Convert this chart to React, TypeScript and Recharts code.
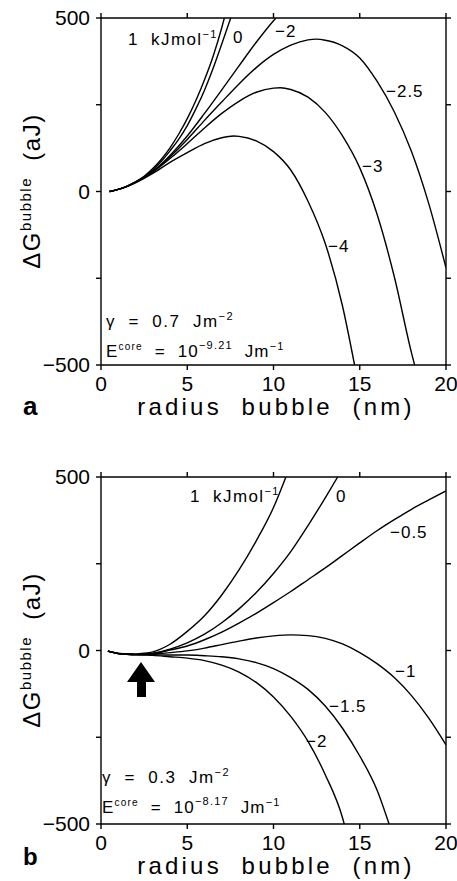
import { Line, LineChart, XAxis, YAxis } from "recharts";

type Pt = [number, number];

const FONT = "'Liberation Sans', Arial, Helvetica, sans-serif";

const radiusTicks = [0, 5, 10, 15, 20];
const energyTicks = [-500, -250, 0, 250, 500];

// panel a: gamma = 0.7 J/m2 (radius nm, dG aJ)
const aPlus1: Pt[] = [[0.5, 0], [1, 6], [1.5, 15], [2, 28], [2.5, 44], [3, 66], [3.5, 93], [4, 126], [4.5, 165], [5, 210], [5.5, 262], [6, 322], [6.5, 390], [7, 472], [7.15, 500]];
const aZero: Pt[] = [[0.5, 0], [1, 6], [1.5, 15], [2, 27], [2.5, 42], [3, 62], [3.5, 87], [4, 117], [4.5, 150], [5, 190], [5.5, 238], [6, 292], [6.5, 355], [7, 425], [7.52, 500]];
const aMinus2: Pt[] = [[0.5, 0], [1, 6], [1.5, 15], [2, 27], [2.5, 41], [3, 58], [4, 104], [5, 160], [6, 225], [7, 293], [8, 362], [9, 430], [10, 492], [10.14, 500]];
const aMinus25: Pt[] = [[0.5, 0], [1, 6], [1.5, 15], [2, 27], [2.5, 41], [3, 57], [4, 100], [5, 150], [6, 205], [7, 258], [8, 310], [9, 357], [10, 395], [11, 422], [12, 437], [12.5, 439], [13, 436], [14, 420], [15, 385], [16, 318], [17, 230], [18, 115], [19, -35], [20, -220]];
const aMinus3: Pt[] = [[0.5, 0], [1, 6], [1.5, 15], [2, 26], [2.5, 40], [3, 56], [4, 95], [5, 138], [6, 183], [7, 225], [8, 260], [9, 286], [10, 298], [10.4, 299], [11, 294], [12, 272], [13, 228], [14, 160], [15, 68], [16, -65], [17, -245], [18, -465], [18.18, -500]];
const aMinus4: Pt[] = [[0.5, 0], [1, 6], [1.5, 14], [2, 25], [2.5, 38], [3, 52], [4, 84], [5, 112], [6, 138], [7, 155], [7.7, 160], [8, 159], [9, 146], [10, 115], [11, 62], [12, -28], [13, -150], [14, -330], [14.7, -500]];

// panel b: gamma = 0.3 J/m2
const bPlus1: Pt[] = [[0.4, -2], [1, -8], [1.5, -10], [2, -10], [2.5, -8], [3, -4], [4, 18], [5, 55], [6, 100], [7, 160], [8, 232], [9, 316], [10, 412], [10.72, 500]];
const bZero: Pt[] = [[0.4, -2], [1, -9], [1.5, -11], [2, -12], [2.5, -11], [3, -8], [4, 4], [5, 22], [6, 47], [7, 80], [8, 120], [9, 167], [10, 222], [11, 285], [12, 360], [13, 440], [13.72, 500]];
const bMinus05: Pt[] = [[0.4, -2], [1, -9], [1.5, -11], [2, -12], [2.5, -11], [3, -9], [4, 1], [5, 13], [6, 31], [7, 53], [8, 79], [9, 107], [10, 138], [11, 170], [12, 204], [13, 238], [14, 274], [15, 310], [16, 345], [17, 377], [18, 407], [19, 434], [20, 460]];
const bMinus1: Pt[] = [[0.4, -2], [1, -9], [1.5, -11], [2, -12], [2.5, -12], [3, -10], [4, -6], [5, -1], [6, 7], [7, 17], [8, 27], [9, 36], [10, 42], [11, 45], [12, 43], [13, 35], [14, 19], [15, -6], [16, -38], [17, -78], [18, -130], [19, -195], [20, -272]];
const bMinus15: Pt[] = [[0.4, -2], [1, -9], [1.5, -11], [2, -12], [2.5, -12], [3, -12], [4, -13], [5, -13], [6, -15], [7, -18], [8, -24], [9, -35], [10, -52], [11, -78], [12, -112], [13, -160], [14, -224], [15, -304], [16, -402], [16.7, -500]];
const bMinus2: Pt[] = [[0.4, -2], [1, -9], [1.5, -11], [2, -12], [2.5, -13], [3, -14], [4, -18], [5, -22], [6, -29], [7, -42], [8, -62], [9, -92], [10, -134], [11, -190], [12, -262], [13, -358], [14, -482], [14.1, -500]];

const panelA = [aPlus1, aZero, aMinus2, aMinus25, aMinus3, aMinus4];
const panelB = [bPlus1, bZero, bMinus05, bMinus1, bMinus15, bMinus2];

const toRows = (pts: Pt[]) => pts.map(([r, g]) => ({ r, g }));

const axisStroke = { stroke: "#000", strokeWidth: 1.4 };
const tickFont = { fill: "#000", fontSize: 21, fontFamily: FONT };

function formatEnergy(v: number) {
  if (v === 250 || v === -250) return "";
  return v < 0 ? `\u2212${Math.abs(v)}` : String(v);
}

function Panel({ curves }: { curves: Pt[][] }) {
  return (
    <LineChart width={457} height={400} margin={{ top: 8, right: 1, bottom: 5, left: 41 }}>
      <XAxis
        xAxisId="bottom"
        type="number"
        dataKey="r"
        domain={[0, 20]}
        ticks={radiusTicks}
        orientation="bottom"
        height={30}
        tickSize={5}
        tickMargin={6}
        tick={tickFont}
        axisLine={axisStroke}
        tickLine={axisStroke}
        allowDataOverflow
      />
      <XAxis
        xAxisId="top"
        type="number"
        dataKey="r"
        domain={[0, 20]}
        ticks={radiusTicks}
        orientation="top"
        height={10}
        tickSize={5}
        tickFormatter={() => ""}
        axisLine={axisStroke}
        tickLine={axisStroke}
        allowDataOverflow
      />
      <YAxis
        yAxisId="left"
        type="number"
        domain={[-500, 500]}
        ticks={energyTicks}
        width={60}
        tickSize={5}
        tickMargin={6}
        tick={tickFont}
        tickFormatter={formatEnergy}
        axisLine={axisStroke}
        tickLine={axisStroke}
        allowDataOverflow
      />
      <YAxis
        yAxisId="right"
        orientation="right"
        type="number"
        domain={[-500, 500]}
        ticks={energyTicks}
        width={10}
        tickSize={5}
        tickFormatter={() => ""}
        axisLine={axisStroke}
        tickLine={axisStroke}
        allowDataOverflow
      />
      {curves.map((c, i) => (
        <Line
          key={i}
          xAxisId="bottom"
          yAxisId="left"
          data={toRows(c)}
          dataKey="g"
          type="monotone"
          stroke="#000"
          strokeWidth={1.4}
          dot={false}
          activeDot={false}
          isAnimationActive={false}
        />
      ))}
    </LineChart>
  );
}

const pre = { whiteSpace: "pre" as const };

function CurveLabel({ x, y, text }: { x: number; y: number; text: string }) {
  return (
    <text x={x} y={y} fontSize={17} style={{ letterSpacing: 1 }}>
      {text}
    </text>
  );
}

function UnitLabel({ x, y }: { x: number; y: number }) {
  return (
    <text x={x} y={y} fontSize={17} style={{ ...pre, letterSpacing: 1.4 }}>
      {"1  kJmol"}
      <tspan dy={-7} fontSize={11}>{"\u22121"}</tspan>
    </text>
  );
}

function Params({ x, y, gamma, core }: { x: number; y: number; gamma: string; core: string }) {
  return (
    <g fontSize={17} style={pre}>
      <text x={x} y={y} style={{ ...pre, letterSpacing: 1.5 }}>
        {`\u03b3  =  ${gamma}  Jm`}
        <tspan dy={-7} fontSize={11}>{"\u22122"}</tspan>
      </text>
      <text x={x} y={y + 30} style={{ ...pre, letterSpacing: 1.2 }}>
        {"E"}
        <tspan dy={-7} fontSize={10}>core</tspan>
        <tspan dy={7}>{"  =  10"}</tspan>
        <tspan dy={-8} fontSize={11}>{`\u2212${core}`}</tspan>
        <tspan dy={8}>{"  Jm"}</tspan>
        <tspan dy={-7} fontSize={11}>{"\u22121"}</tspan>
      </text>
    </g>
  );
}

function AxisTitles({ dy, letter, letterY, letterSize }: { dy: number; letter: string; letterY: number; letterSize: number }) {
  return (
    <g>
      <text x={276} y={415 + dy} fontSize={24} textAnchor="middle" style={{ ...pre, letterSpacing: 3.2 }}>
        {"radius  bubble  (nm)"}
      </text>
      <text transform={`translate(40, ${191 + dy}) rotate(-90)`} fontSize={24} textAnchor="middle" style={{ ...pre, letterSpacing: 1.5 }}>
        {"\u0394G"}
        <tspan dy={-9} fontSize={15}>bubble</tspan>
        <tspan dy={9}>{"  (aJ)"}</tspan>
      </text>
      <text x={23} y={letterY} fontSize={letterSize} fontWeight="bold">
        {letter}
      </text>
    </g>
  );
}

export default function App() {
  return (
    <div style={{ position: "absolute", left: 0, top: 0, width: 457, height: 881, background: "#fff", fontFamily: FONT }}>
      <div style={{ position: "absolute", left: 0, top: 0 }}>
        <Panel curves={panelA} />
      </div>
      <div style={{ position: "absolute", left: 0, top: 459 }}>
        <Panel curves={panelB} />
      </div>
      <svg
        width={457}
        height={881}
        style={{ position: "absolute", left: 0, top: 0, pointerEvents: "none", fontFamily: FONT }}
        fill="#000"
      >
        {/* panel a */}
        <UnitLabel x={128} y={45} />
        <CurveLabel x={233} y={43} text="0" />
        <CurveLabel x={275} y={37} text={"\u22122"} />
        <CurveLabel x={386} y={97} text={"\u22122.5"} />
        <CurveLabel x={362} y={172} text={"\u22123"} />
        <CurveLabel x={328} y={252} text={"\u22124"} />
        <Params x={106} y={327} gamma="0.7" core="9.21" />
        <AxisTitles dy={0} letter="a" letterY={415} letterSize={26} />

        {/* panel b */}
        <UnitLabel x={190} y={502} />
        <CurveLabel x={336} y={502} text="0" />
        <CurveLabel x={390} y={538} text={"\u22120.5"} />
        <CurveLabel x={395} y={677} text={"\u22121"} />
        <CurveLabel x={329} y={712} text={"\u22121.5"} />
        <CurveLabel x={306} y={747} text={"\u22122"} />
        <Params x={102} y={783} gamma="0.3" core="8.17" />
        <path d="M137,697 L137,682 L127,682 L141,662 L155,682 L146,682 L146,697 Z" fill="#000" />
        <AxisTitles dy={459} letter="b" letterY={865} letterSize={24} />
      </svg>
    </div>
  );
}
